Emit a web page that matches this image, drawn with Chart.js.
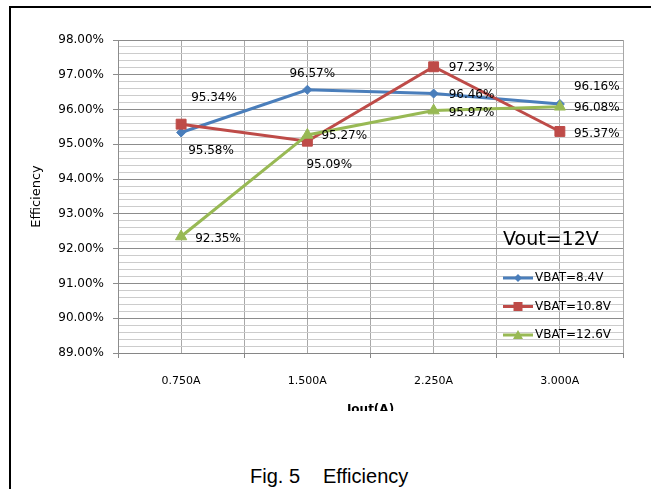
<!DOCTYPE html>
<html>
<head>
<meta charset="utf-8">
<script src="https://cdn.jsdelivr.net/npm/chart.js@4.4.1/dist/chart.umd.min.js"></script>
<style>
  html, body { margin: 0; background: #fff; overflow: hidden; }
  #marco { position: absolute; left: 9px; top: 6px; width: 640px; height: 481px; border-left: 2px solid #000; border-top: 2px solid #000; }
  #grafico { position: absolute; left: 11px; top: 8px; }
  #pie { position: absolute; left: 250px; top: 466px; font-family: 'Liberation Sans', Arial, sans-serif; font-size: 20px; line-height: 20px; white-space: nowrap; color: #000; }
</style>
</head>
<body>
<div id="marco"></div>
<canvas id="grafico" width="640" height="403"></canvas>
<div id="pie">Fig. 5<span style="margin-left:23px">Efficiency</span></div>
<script>
let categorias = ['0.750A', '1.500A', '2.250A', '3.000A'];
let series = ['VBAT=8.4V', 'VBAT=10.8V', 'VBAT=12.6V'];
let vbat84 = [95.34, 96.57, 96.46, 96.16];
let vbat108 = [95.58, 95.09, 97.23, 95.37];
let vbat126 = [92.35, 95.27, 95.97, 96.08];

// desplazamiento de cada etiqueta respecto al punto [dx, dy]
let desplazamientos = [
    [[10, -35], [-18, -16], [15, 1], [14, -17]],
    [[7, 27], [-1, 24], [15, 1.5], [14, 2]],
    [[14, 2], [14, 1], [15, 2], [14, 1.5]]
];

let colores = ['#4A7EBB', '#BE4B48', '#98B954'];
let estilos = ['rectRot', 'rect', 'triangle'];

Chart.defaults.font.family = '"DejaVu Sans", sans-serif';

const entero = (v) => Math.abs(v - Math.round(v)) < 1e-6;
const puntos = (valores) => valores.map((v, i) => ({ x: i + 1, y: v }));

function marca(ctx, estilo, x, y) {
    ctx.beginPath();
    if (estilo === 'rectRot') {
        ctx.moveTo(x, y - 4); ctx.lineTo(x + 4, y); ctx.lineTo(x, y + 4); ctx.lineTo(x - 4, y);
    } else if (estilo === 'rect') {
        ctx.rect(x - 4.5, y - 4.5, 9, 9);
    } else {
        ctx.moveTo(x, y - 5); ctx.lineTo(x + 5, y + 4); ctx.lineTo(x - 5, y + 4);
    }
    ctx.closePath();
    ctx.fill();
}

const etiquetas = {
    id: 'etiquetas',
    afterDatasetsDraw(chart) {
        const ctx = chart.ctx;
        const area = chart.chartArea;
        ctx.save();
        ctx.fillStyle = '#000';
        ctx.textAlign = 'left';
        ctx.textBaseline = 'middle';
        ctx.font = '12px "DejaVu Sans"';
        chart.data.datasets.forEach((ds, i) => {
            chart.getDatasetMeta(i).data.forEach((pt, j) => {
                const d = desplazamientos[i][j];
                ctx.fillText(ds.data[j].y.toFixed(2) + '%', pt.x + d[0], pt.y + d[1]);
            });
        });

        // texto Vout y leyenda
        const x0 = area.right - 120;
        ctx.font = '19px "DejaVu Sans"';
        ctx.fillText('Vout=12V', x0, 232);
        ctx.font = '12px "DejaVu Sans"';
        chart.data.datasets.forEach((ds, i) => {
            const y = 270 + i * 28.5;
            ctx.strokeStyle = ds.borderColor;
            ctx.fillStyle = ds.borderColor;
            ctx.lineWidth = 3;
            ctx.beginPath();
            ctx.moveTo(x0, y);
            ctx.lineTo(x0 + 30, y);
            ctx.stroke();
            marca(ctx, ds.pointStyle, x0 + 15, y);
            ctx.fillStyle = '#000';
            ctx.fillText(ds.label, x0 + 32, y);
        });
        ctx.restore();
    }
};

let grafico = new Chart(document.getElementById('grafico').getContext('2d'), {
    type: 'line',
    data: {
        datasets: [vbat84, vbat108, vbat126].map((valores, i) => ({
            label: series[i],
            data: puntos(valores),
            borderColor: colores[i],
            backgroundColor: colores[i],
            borderWidth: 3,
            tension: 0,
            pointStyle: estilos[i],
            pointRadius: [4.5, 7, 6.5][i],
            pointBorderWidth: 1,
            order: 2 - i
        }))
    },
    options: {
        responsive: false,
        animation: false,
        events: [],
        layout: {
            padding: { top: 32, right: 28, left: 0, bottom: 0 }
        },
        plugins: {
            legend: { display: false },
            tooltip: { enabled: false }
        },
        scales: {
            x: {
                type: 'linear',
                min: 0.5,
                max: 4.5,
                afterFit: (s) => { s.height = 58; },
                ticks: {
                    stepSize: 0.5,
                    autoSkip: false,
                    maxRotation: 0,
                    padding: 17,
                    color: '#000',
                    font: { size: 11 },
                    callback: (v) => entero(v) ? categorias[Math.round(v) - 1] : ''
                },
                grid: {
                    color: '#a8a8a8',
                    tickLength: 5,
                    tickColor: (c) => c.tick && !entero(c.tick.value) ? '#868686' : 'rgba(0,0,0,0)'
                },
                border: { color: '#868686' },
                title: {
                    display: true,
                    text: 'Iout(A)',
                    color: '#000',
                    font: { size: 12, weight: 'bold', lineHeight: 1 },
                    padding: { top: 0, bottom: -5 }
                }
            },
            y: {
                min: 89,
                max: 98,
                afterFit: (s) => { s.width = 107; },
                ticks: {
                    stepSize: 0.2,
                    autoSkip: false,
                    padding: 9,
                    color: '#000',
                    font: { size: 12 },
                    callback: (v) => entero(v) ? v.toFixed(2) + '%' : ''
                },
                grid: {
                    color: (c) => c.tick && entero(c.tick.value) ? '#8c8c8c' : '#cccccc',
                    tickLength: 5,
                    tickColor: (c) => c.tick && entero(c.tick.value) ? '#8c8c8c' : 'rgba(0,0,0,0)'
                },
                border: { color: '#8c8c8c' },
                title: {
                    display: true,
                    text: 'Efficiency',
                    color: '#000',
                    font: { size: 13 },
                    padding: { top: 18, bottom: 0 }
                }
            }
        }
    },
    plugins: [etiquetas]
});
</script>
</body>
</html>
